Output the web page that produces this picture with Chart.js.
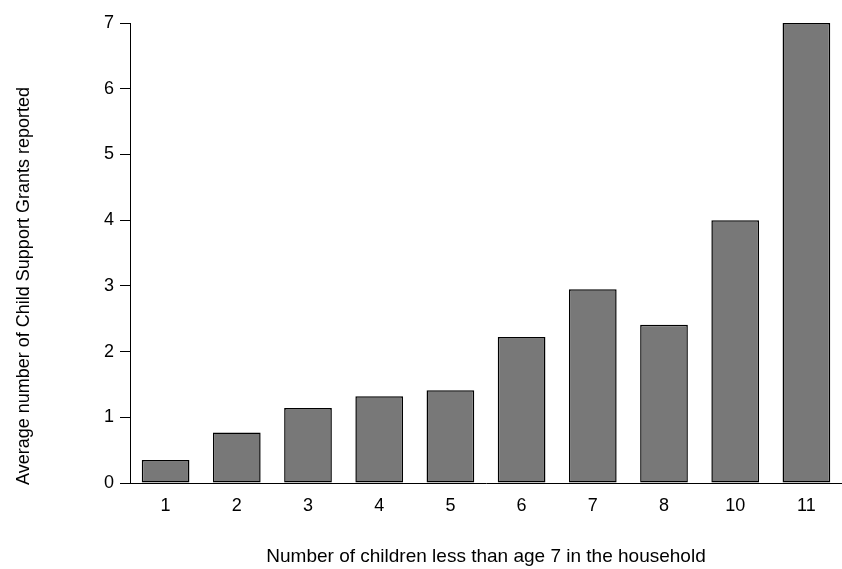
<!DOCTYPE html>
<html lang="en">

<head>
    <meta charset="UTF-8">
    <script src="https://cdn.jsdelivr.net/npm/chart.js@4.4.0/dist/chart.umd.min.js"></script>
    <title>Child Support Grants</title>
    <style>
        body { margin: 0; background: #fff; }
        .canvasbox { width: 842px; height: 569px; }
    </style>
</head>

<body>
    <div class="canvasbox"><canvas id="myChart" width="842" height="569"></canvas></div>
    <script>
        const categories = ['1', '2', '3', '4', '5', '6', '7', '8', '10', '11'];
        const grants = [0.35, 0.77, 1.14, 1.32, 1.41, 2.22, 2.95, 2.41, 4.0, 7.0];
        const yTitle = 'Average number of Child Support Grants reported';
        const xTitle = 'Number of children less than age 7 in the household';
        const fontFamily = '"Liberation Sans", Arial, sans-serif';

        // y title drawn by hand so it can sit a bit lower like the original
        const yTitlePlugin = {
            id: 'yTitle',
            afterDraw(chart) {
                const c = chart.ctx;
                c.save();
                c.translate(24, 286);
                c.rotate(-Math.PI / 2);
                c.font = '18px ' + fontFamily;
                c.fillStyle = '#000';
                c.textAlign = 'center';
                c.textBaseline = 'middle';
                c.fillText(yTitle, 0, 0);
                c.restore();
            }
        };

        const ctx = document.getElementById('myChart').getContext('2d');
        const myChart = new Chart(ctx, {
            type: 'bar',
            data: {
                labels: categories,
                datasets: [{
                    label: yTitle,
                    data: grants,
                    backgroundColor: '#787878',
                    borderColor: '#000',
                    borderWidth: 1.5,
                    borderSkipped: false,
                    categoryPercentage: 1,
                    barPercentage: 0.67
                }]
            },
            options: {
                responsive: false,
                animation: false,
                layout: { padding: { top: 23, right: 0, bottom: 0, left: 0 } },
                plugins: {
                    legend: { display: false },
                    tooltip: { enabled: false }
                },
                scales: {
                    x: {
                        grid: { display: false, drawTicks: false },
                        border: { color: '#000', width: 1 },
                        ticks: { color: '#000', padding: 12, font: { family: fontFamily, size: 18 } },
                        title: {
                            display: true, text: xTitle, color: '#000',
                            font: { family: fontFamily, size: 19 },
                            padding: { top: 0, bottom: 1 }
                        },
                        afterFit(scale) { scale.height = 86; }
                    },
                    y: {
                        min: 0,
                        max: 7,
                        grid: { drawOnChartArea: false, tickLength: 10, color: '#000' },
                        border: { color: '#000', width: 1 },
                        ticks: { stepSize: 1, color: '#000', padding: 6, font: { family: fontFamily, size: 18 } },
                        afterFit(scale) { scale.width = 130; }
                    }
                }
            },
            plugins: [yTitlePlugin]
        });
    </script>
</body>

</html>
